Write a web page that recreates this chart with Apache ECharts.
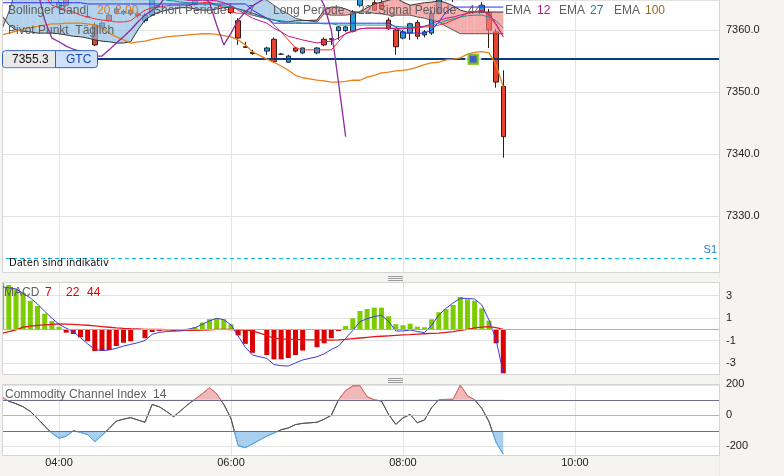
<!DOCTYPE html>
<html><head><meta charset="utf-8">
<script src="https://cdn.jsdelivr.net/npm/echarts@6/dist/echarts.min.js"></script>
<style>html,body{margin:0;padding:0;background:#f5f4f0;}#c{width:784px;height:476px;}</style>
</head><body><div id="c"></div>
<script>
// ---------- data (5-minute bars; 06:20 and 06:55 absent) ----------
const times = ['03:20','03:25','03:30','03:35','03:40','03:45','03:50','03:55','04:00','04:05','04:10','04:15','04:20','04:25','04:30','04:35','04:40','04:45','04:50','04:55','05:00','05:05','05:10','05:15','05:20','05:25','05:30','05:35','05:40','05:45','05:50','05:55','06:00','06:05','06:10','06:15','06:25','06:30','06:35','06:40','06:45','06:50','07:00','07:05','07:10','07:15','07:20','07:25','07:30','07:35','07:40','07:45','07:50','07:55','08:00','08:05','08:10','08:15','08:20','08:25','08:30','08:35','08:40','08:45','08:50','08:55','09:00','09:05','09:10'];
const opens = [7367.5,7368.0,7367.6,7367.9,7367.2,7366.8,7366.0,7365.4,7363.6,7365.0,7365.2,7365.6,7362.2,7360.8,7360.5,7362.4,7363.4,7362.7,7363.2,7362.6,7361.5,7362.4,7365.4,7365.1,7365.6,7365.2,7365.5,7364.1,7366.5,7366.9,7367.5,7367.0,7363.8,7361.5,7357.3,7356.4,
  7356.6,7358.5,7356.1,7354.8,7357.1,7356.3,
  7356.3,7358.5,7358.6,7359.9,7359.9,7359.8,7364.0,7365.6,7364.4,7364.4,7361.6,7360.0,7358.7,7359.5,7361.2,7359.2,7359.5,7362.7,7365.0,7365.8,7366.1,7367.5,7367.0,7362.9,7362.8,7359.7,7350.9];
const closes = [7368.0,7367.6,7367.9,7367.2,7366.8,7366.0,7365.4,7365.1,7364.4,7364.0,7365.6,7365.0,7362.1,7357.6,7361.1,7361.5,7362.7,7363.0,7362.6,7362.3,7362.4,7365.4,7365.1,7365.3,7365.2,7365.5,7365.0,7366.5,7366.9,7367.5,7366.9,7365.1,7362.8,7358.7,7357.2,7356.2,
  7357.1,7354.9,7356.1,7355.8,7356.6,7357.1,
  7357.1,7357.6,7358.5,7360.5,7360.5,7362.9,7365.6,7365.3,7363.2,7363.4,7360.2,7357.3,7359.7,7361.0,7359.0,7359.7,7362.7,7365.0,7365.8,7366.1,7367.5,7367.0,7366.2,7364.0,7360.0,7351.6,7342.8];
const lows = [7366.8,7367.0,7367.2,7366.9,7366.2,7365.6,7365.1,7364.4,7363.4,7363.7,7364.9,7364.9,7362.1,7357.4,7360.2,7361.3,7362.5,7362.4,7362.3,7361.9,7361.2,7362.2,7364.9,7364.9,7364.9,7365.0,7364.9,7363.9,7366.0,7366.4,7366.5,7364.9,7362.6,7357.6,7357.1,7356.0,
  7356.0,7354.7,7356.0,7354.7,7356.4,7356.1,
  7356.1,7357.4,7357.6,7358.4,7359.7,7359.6,7363.7,7364.9,7363.1,7363.2,7360.0,7356.0,7358.5,7358.4,7358.5,7358.8,7359.2,7362.5,7364.8,7364.5,7365.9,7366.6,7365.8,7362.7,7357.1,7350.7,7339.4];
const highs = [7368.6,7368.4,7368.5,7368.2,7367.5,7367.1,7366.3,7365.8,7365.3,7365.4,7365.9,7365.8,7364.0,7361.2,7361.4,7362.7,7363.7,7363.3,7363.6,7362.9,7362.7,7365.9,7366.0,7365.7,7366.0,7365.9,7365.8,7366.8,7367.3,7367.9,7367.7,7367.3,7364.3,7361.9,7358.1,7356.8,
  7357.3,7358.8,7356.3,7356.0,7357.3,7357.2,
  7357.2,7358.8,7358.6,7360.6,7360.7,7363.2,7365.9,7366.1,7364.8,7364.8,7362.0,7360.2,7360.0,7361.2,7361.6,7360.0,7363.1,7365.7,7366.2,7366.4,7367.9,7367.8,7367.2,7364.5,7363.4,7360.2,7353.5];

// Bollinger lower band (orange)
const bollLower = [7359.2,7359.5,7359.8,7360.2,7360.4,7360.6,7360.8,7361.0,7361.0,7361.1,7361.1,7361.1,7361.0,7360.8,7360.3,7359.5,7358.9,7358.4,7357.9,7358.1,7358.2,7358.5,7358.7,7358.9,7359.0,7359.1,7359.2,7359.3,7359.4,7359.4,7359.3,7359.1,7358.9,7358.4,7357.6,7356.5,
  7355.3,7354.8,7354.2,7353.5,7352.7,7352.3,
  7351.9,7351.8,7351.6,7351.6,7351.7,7351.9,7351.9,7352.4,7352.7,7353.1,7353.2,7353.4,7353.5,7353.7,7354.0,7354.4,7354.7,7354.8,7355.2,7355.3,7355.5,7356.1,7356.4,7356.5,7356.3,7354.4,7350.8];
// Short periode (red) and long periode (blue)
const shortLine = [7365.6,7365.6,7365.6,7365.6,7365.6,7365.6,7365.6,7364.0,7363.6,7363.2,7362.9,7362.4,7362.1,7361.8,7361.6,7361.5,7361.3,7361.3,7361.5,7362.4,7363.2,7363.6,7363.7,7363.9,7364.0,7364.0,7364.0,7364.2,7364.4,7364.5,7364.0,7363.6,7362.9,7362.7,7362.7,7362.4,
  7361.9,7360.8,7359.7,7358.4,7357.1,7356.8,
  7356.8,7356.8,7356.8,7358.1,7359.5,7359.8,7360.2,7360.3,7360.3,7360.3,7360.3,7360.3,7360.3,7360.3,7360.3,7360.5,7360.5,7360.8,7361.1,7361.6,7362.1,7362.7,7362.9,7363.2,7362.4,7360.8,7358.9];
const longLine = [7364.4,7364.4,7364.4,7364.4,7364.4,7364.4,7364.4,7364.4,7364.4,7364.4,7364.4,7364.4,7364.2,7364.2,7364.2,7364.2,7364.2,7364.2,7364.2,7364.2,7364.2,7364.2,7364.2,7364.2,7364.2,7364.2,7364.2,7364.2,7364.2,7364.2,7364.2,7364.2,7364.2,7364.2,7364.2,7363.2,
  7361.9,7361.1,7361.1,7361.1,7361.1,7361.1,
  7361.1,7361.1,7361.1,7361.1,7361.1,7361.1,7361.1,7361.1,7361.1,7361.1,7361.1,7360.5,7359.5,7359.5,7359.5,7359.5,7360.0,7361.3,7362.9,7363.7,7363.7,7363.7,7363.7,7363.7,7363.7,7363.7,7363.7];
// cloud boundaries
const spanA = [7360.0,7362.9,7366.5,7366.5,7366.5,7366.5,7366.5,7366.5,7366.5,7366.5,7366.5,7366.5,7366.5,7366.5,7366.5,7366.5,7366.5,7366.5,7366.5,7366.5,7366.5,7366.5,7366.5,7366.5,7366.5,7366.5,7366.5,7366.5,7366.5,7366.5,7366.5,7366.5,7366.5,7366.5,7366.5,7365.6,
  7364.8,7364.0,7363.2,7362.6,7361.9,7361.6,
  7361.3,7362.6,7362.4,7362.4,7362.4,7362.6,7362.9,7362.9,7362.7,7362.6,7362.4,7362.4,7362.4,7362.4,7362.1,7361.9,7361.6,7361.3,7360.6,7360.0,7359.4,7359.4,7359.4,7359.4,7359.4,7359.4,7359.4];
const spanB = [7362.4,7360.8,7360.0,7359.8,7359.7,7359.5,7359.5,7359.5,7359.4,7359.2,7359.0,7358.9,7358.7,7358.4,7358.2,7358.1,7357.9,7357.9,7358.1,7360.0,7361.6,7362.4,7362.9,7363.2,7363.4,7363.6,7363.6,7363.4,7363.2,7363.2,7363.4,7363.6,7363.7,7363.4,7363.1,7362.7,
  7361.9,7361.6,7361.3,7361.3,7361.5,7361.5,
  7361.6,7363.2,7363.7,7363.7,7363.4,7362.9,7362.9,7363.6,7364.2,7364.5,7364.8,7365.2,7364.5,7364.0,7364.2,7364.4,7364.5,7364.7,7364.4,7363.9,7363.2,7362.9,7362.9,7362.9,7362.9,7362.9,7362.9];
const ema12 = [7365.6,7365.6,7365.6,7365.6,7365.6,7365.6,7365.6,7365.6,7365.6,7365.6,7365.6,7365.6,7365.6,7365.6,7365.6,7365.6,7365.6,7365.6,7365.6,7365.6,7365.6,7365.6,7365.6,7365.3,7365.2,7365.0,7364.8,7364.8,7364.8,7364.8,7364.7,7364.4,7363.9,7363.2,7362.6,7361.9,
  7361.1,7360.3,7359.7,7359.0,7358.7,7358.4,
  7357.9,7358.1,7358.2,7358.7,7359.4,7359.8,7360.2,7360.3,7360.3,7360.3,7360.3,7360.2,7360.2,7360.3,7360.5,7360.6,7361.0,7361.5,7361.9,7362.1,7362.4,7362.7,7362.9,7363.1,7362.6,7361.0,7358.9];
const ema27 = [7365.6,7365.6,7365.6,7365.6,7365.6,7365.6,7365.6,7365.6,7365.6,7365.6,7365.6,7365.6,7365.6,7365.6,7365.6,7365.6,7365.6,7365.6,7365.6,7365.6,7365.6,7365.6,7365.6,7364.8,7364.7,7364.5,7364.4,7364.4,7364.2,7364.2,7364.0,7363.9,7363.7,7363.4,7362.9,7362.4,
  7361.8,7361.6,7361.5,7361.3,7361.3,7361.1,
  7361.1,7361.0,7361.0,7360.8,7360.8,7360.8,7360.8,7360.8,7360.8,7360.8,7360.8,7360.6,7360.5,7360.5,7360.5,7360.6,7360.8,7361.1,7361.5,7361.8,7362.1,7362.3,7362.4,7362.4,7362.1,7361.5,7360.3];
// lagging line (purple), plotted from the first bar, ends 22 bars before the last bar
const lagLine = [7365.1,7365.3,7365.2,7365.5,7365.0,7366.5,7361.6,7358.7,7358.1,7357.4,7356.9,7356.5,7356.1,7355.8,7355.8,7356.8,7357.9,7358.9,7360.0,7361.3,7362.4,7363.2,7364.0,7365.6,7366.0,7366.3,7366.5,7366.2,7365.6,7364.4,7360.8,7357.6,7359.5,7361.6,7362.9,7363.9,7365.3,7365.0,7365.8,7366.1,7367.5,7367.0,7366.2,7364.0,7360.0,7351.6,7342.8];

const macdHist = [4.16,3.95,3.57,3.27,2.55,2.08,1.39,0.74,0.23,-0.30,-0.42,-0.71,-1.07,-1.94,-1.94,-1.85,-1.49,-1.2,-1.07,-0.05,-0.8,-0.24,-0.15,-0.05,-0.15,0.0,0.05,0.18,0.6,0.9,1.0,0.9,0.45,-0.54,-1.3,-2.1,
  -2.3,-2.68,-2.68,-2.56,-2.3,-1.9,
  -1.6,-1.25,-0.8,-0.15,0.3,0.98,1.63,1.81,1.93,1.93,1.16,0.45,0.36,0.5,0.23,0.18,0.89,1.52,1.79,2.17,2.88,2.68,2.55,1.87,0.77,-1.25,-3.93];
const macdLine = [3.8,3.7,3.6,3.2,2.8,2.25,1.6,1.0,0.45,0.1,-0.2,-0.75,-1.3,-1.8,-1.9,-1.85,-1.7,-1.5,-1.35,-1.2,-1.0,-0.45,-0.28,-0.2,-0.17,-0.15,0.0,0.15,0.45,0.75,0.98,0.85,0.4,-0.6,-1.6,-2.3,
  -2.6,-3.15,-3.25,-3.28,-3.0,-2.74,
  -2.45,-2.2,-1.8,-1.5,-0.8,-0.1,0.68,0.95,1.13,1.25,0.7,-0.15,-0.15,-0.06,-0.2,-0.3,0.35,1.28,1.87,2.35,2.77,2.75,2.7,2.17,0.83,-0.96,-3.9];
const macdSignal = [-0.36,-0.2,-0.05,0.2,0.28,0.34,0.4,0.44,0.47,0.46,0.43,0.4,0.36,0.3,0.24,0.18,0.12,0.08,0.05,0.03,0.0,0.0,-0.02,-0.04,-0.06,-0.08,-0.1,-0.1,-0.08,-0.04,0.0,0.0,-0.02,-0.05,-0.08,-0.15,
  -0.55,-0.8,-0.85,-0.88,-0.9,-0.92,
  -0.94,-0.95,-0.96,-0.95,-0.9,-0.84,-0.78,-0.72,-0.66,-0.62,-0.58,-0.54,-0.5,-0.48,-0.44,-0.4,-0.37,-0.34,-0.28,-0.2,-0.1,0.0,0.12,0.2,0.23,0.15,0.0];
const cci = [120,90,75,55,25,-20,-70,-115,-148,-135,-100,-110,-125,-170,-130,-85,-37,-25,-15,-30,-45,70,55,25,-9,30,70,105,140,178,140,70,-20,-196,-209,-185,
  -134,-115,-93,-82,-60,-52,
  -45,-25,0,99,160,190,191,120,100,92,5,-58,-17,6,-48,-30,50,100,103,103,195,126,100,45,-40,-175,-250];

const priceTicks = [7330, 7340, 7350, 7360];
const macdTicks = [-3, -1, 1, 3];
const cciTicks = [-200, 0, 200];
const cciLevels = [100, -100];
const orderPrice = 7355.3;
const orderTime = '08:49';
const s1Price = 7323.2;
const lastPrice = closes[closes.length - 1];

// ---------- chart ----------
const toMin = s => +s.slice(0, 2) * 60 + +s.slice(3);
const xs = times.map(toMin);
const pair = arr => arr.map((v, k) => [xs[k], v]);
const FONT = 'Liberation Sans';
const BEIGE = '#f5f4f0';
const fmtTime = v => { const h = Math.floor(v / 60), m = Math.round(v % 60); return String(h).padStart(2, '0') + ':' + String(m).padStart(2, '0'); };

const chart = echarts.init(document.getElementById('c'), null, { renderer: 'canvas' });

const xAxisBase = gi => ({
  type: 'value', gridIndex: gi, min: 120, max: 700.5, interval: 120,
  axisLine: { show: false }, axisTick: { show: false }, axisLabel: { show: false },
  splitLine: { show: true, lineStyle: { color: '#e3e3e3', width: 1 } }
});
const yLabel = (fmt) => ({ color: '#222', fontSize: 11, fontFamily: FONT, margin: 7, formatter: fmt, showMaxLabel: false });

const cloudData = xs.slice(0, -1).map((x, k) => [x, spanA[k], spanB[k], xs[k + 1], spanA[k + 1], spanB[k + 1]]);

const thinLine = (name, data, color, width, z) => ({
  type: 'line', name, xAxisIndex: 0, yAxisIndex: 0, data: pair(data), showSymbol: false, symbol: 'none',
  lineStyle: { color, width }, z: z || 4, silent: true, animation: false
});
const gridBase = { left: -113, right: 65, show: true, backgroundColor: '#fff', borderWidth: 0, outerBoundsMode: 'none', containLabel: false };

const option = {
  backgroundColor: BEIGE,
  animation: false,
  grid: [
    Object.assign({ top: 0, bottom: 198 }, gridBase),
    Object.assign({ top: 282, bottom: 90.7 }, gridBase),
    Object.assign({ top: 384, bottom: -1.3 }, gridBase)
  ],
  xAxis: [
    xAxisBase(0), xAxisBase(1), xAxisBase(2),
    { type: 'value', gridIndex: 2, min: 120, max: 700.5, interval: 120, position: 'bottom', offset: -21, z: 30,
      axisLine: { show: false }, axisTick: { show: false }, splitLine: { show: false },
      axisLabel: { show: true, color: '#222', fontSize: 11, fontFamily: FONT, margin: 1, showMaxLabel: false, showMinLabel: false, formatter: fmtTime } }
  ],
  yAxis: [
    { type: 'value', gridIndex: 0, position: 'right', min: 7320, max: 7364.84, interval: 10, scale: true,
      axisLine: { show: false }, axisTick: { show: false },
      splitLine: { lineStyle: { color: '#e3e3e3' } },
      axisLabel: yLabel(v => priceTicks.includes(Math.round(v)) ? v.toFixed(1) : '') },
    { type: 'value', gridIndex: 1, position: 'right', min: -5, max: 4.22, interval: 2,
      axisLine: { show: false }, axisTick: { show: false },
      splitLine: { lineStyle: { color: '#e3e3e3' } },
      axisLabel: yLabel(v => macdTicks.includes(Math.round(v)) ? String(v) : '') },
    { type: 'value', gridIndex: 2, position: 'right', min: -400, max: 202, interval: 200,
      axisLine: { show: false }, axisTick: { show: false },
      splitLine: { lineStyle: { color: '#e3e3e3' } },
      axisLabel: yLabel(v => cciTicks.includes(Math.round(v)) ? String(v) : '') }
  ],
  visualMap: [
    { type: 'piecewise', show: false, seriesIndex: 15, dimension: 1,
      pieces: [{ gt: 100, color: '#e58b8b' }, { lt: -100, color: '#6fb0e2' }, { gte: -100, lte: 100, color: 'rgba(255,255,255,0)' }] },
    { type: 'piecewise', show: false, seriesIndex: 16, dimension: 1,
      pieces: [{ gt: 100, color: '#d96a6a' }, { lt: -100, color: '#5aa2dc' }, { gte: -100, lte: 100, color: '#555' }] }
  ],
  series: [
    { // 0 candles
      type: 'candlestick', xAxisIndex: 0, yAxisIndex: 0, barWidth: 5, z: 2,
      data: xs.map((x, k) => [x, opens[k], closes[k], lows[k], highs[k]]),
      encode: { x: 0, y: [1, 2, 3, 4] },
      itemStyle: { color: '#27a0e0', color0: '#e9432f', borderColor: '#1d2a38', borderColor0: '#3a1a14', borderWidth: 1 },
      markLine: {
        silent: true, symbol: 'none', animation: false,
        data: [
          { yAxis: orderPrice, lineStyle: { color: '#0a3a78', width: 2, type: 'solid' }, label: { show: false } },
          { yAxis: s1Price, lineStyle: { color: '#12b2ea', width: 1, type: [4, 3] },
            label: { show: true, position: 'insideEndTop', formatter: 'S1', color: '#1a7ed0', fontSize: 11, fontFamily: FONT, distance: [2, 3] } },
          { yAxis: lastPrice, lineStyle: { opacity: 0 },
            label: { show: true, position: 'end', distance: 0, formatter: p => p.value.toFixed(1), color: '#111', fontSize: 11, fontFamily: FONT,
              backgroundColor: '#dcdcdc', borderColor: '#111', borderWidth: 1, padding: [4, 24, 3, 3] } }
        ]
      }
    },
    { // 1 cloud
      type: 'custom', xAxisIndex: 0, yAxisIndex: 0, clip: true, z: 3, silent: true,
      data: cloudData, encode: { x: [0, 3], y: [1, 2, 4, 5] },
      renderItem(params, api) {
        const x0 = api.value(0), a0 = api.value(1), b0 = api.value(2), x1 = api.value(3), a1 = api.value(4), b1 = api.value(5);
        const d0 = a0 - b0, d1 = a1 - b1;
        const P = (x, v) => api.coord([x, v]);
        const polys = [];
        if (d0 * d1 >= 0) {
          polys.push({ pts: [P(x0, a0), P(x1, a1), P(x1, b1), P(x0, b0)], up: d0 + d1 >= 0 });
        } else {
          const f = d0 / (d0 - d1), xc = x0 + f * (x1 - x0), vc = a0 + f * (a1 - a0);
          polys.push({ pts: [P(x0, a0), P(xc, vc), P(x0, b0)], up: d0 > 0 });
          polys.push({ pts: [P(xc, vc), P(x1, a1), P(x1, b1)], up: d1 > 0 });
        }
        return { type: 'group', children: polys.map(p => ({ type: 'polygon', shape: { points: p.pts },
          style: { fill: p.up ? '#8cbbe2' : '#f28383', opacity: 0.66 } })) };
      }
    },
    thinLine('spanA', spanA, '#555', 1, 4),          // 2
    thinLine('spanB', spanB, '#333', 1, 4),          // 3
    thinLine('boll', bollLower, '#e8801c', 1.3, 5),  // 4
    thinLine('short', shortLine, '#ff2a2a', 1, 5),   // 5
    thinLine('long', longLine, '#2a2aff', 1, 5),     // 6
    thinLine('ema27', ema27, '#17949a', 1, 5),       // 7
    thinLine('ema12', ema12, '#c0178c', 1, 5),       // 8
    { type: 'line', xAxisIndex: 0, yAxisIndex: 0, data: lagLine.map((v, k) => [xs[k], v]), showSymbol: false, symbol: 'none',
      lineStyle: { color: '#8e2c9e', width: 1.3 }, z: 5, silent: true },              // 9
    { type: 'scatter', xAxisIndex: 0, yAxisIndex: 0, z: 7, silent: true, // 10 marker gap
      data: [[toMin(orderTime), orderPrice]], symbol: 'rect', symbolSize: [16, 5], itemStyle: { color: '#fff' } },
    { type: 'scatter', xAxisIndex: 0, yAxisIndex: 0, z: 8, silent: true, // 11 order marker
      data: [[toMin(orderTime), orderPrice]], symbol: 'rect', symbolSize: 9,
      itemStyle: { color: '#1638c8', borderColor: '#78c000', borderWidth: 2.5 } },
    { // 12 histogram
      type: 'bar', xAxisIndex: 1, yAxisIndex: 1, barWidth: 5, data: pair(macdHist), z: 2,
      itemStyle: { color: p => p.value[1] >= 0 ? '#7ccc00' : '#dd0000' },
      markLine: { silent: true, symbol: 'none', label: { show: false }, data: [{ yAxis: 0 }], lineStyle: { color: '#a9b1b9', width: 1, type: 'solid' } }
    },
    { type: 'line', xAxisIndex: 1, yAxisIndex: 1, data: pair(macdLine), showSymbol: false, symbol: 'none', lineStyle: { color: '#3b3bdd', width: 1 }, z: 4 }, // 13
    { type: 'line', xAxisIndex: 1, yAxisIndex: 1, data: pair(macdSignal), showSymbol: false, symbol: 'none', lineStyle: { color: '#e01818', width: 1.3 }, z: 3 }, // 14
    { // 15 cci fill
      type: 'line', xAxisIndex: 2, yAxisIndex: 2, data: pair(cci), showSymbol: false, symbol: 'none',
      lineStyle: { width: 0 }, areaStyle: { origin: 100, opacity: 0.6 }, z: 2, silent: true
    },
    { // 16 cci line
      type: 'line', xAxisIndex: 2, yAxisIndex: 2, data: pair(cci), showSymbol: false, symbol: 'none',
      lineStyle: { width: 1 }, z: 4, silent: true,
      markLine: { silent: true, symbol: 'none', label: { show: false },
        data: [
          { yAxis: cciLevels[0], lineStyle: { color: '#6e6e8e', width: 1, type: 'solid' } },
          { yAxis: 0, lineStyle: { color: '#9dbbd2', width: 1, type: 'solid' } },
          { yAxis: cciLevels[1], lineStyle: { color: '#6e6e8e', width: 1, type: 'solid' } }
        ] }
    }
  ]
};
chart.setOption(option);

// ---------- overlay furniture (strips, frames, titles) ----------
const oy = chart.convertToPixel({ yAxisIndex: 0 }, orderPrice);
const txt = (x, y, s, color, size, family, extra) => Object.assign({ type: 'text', x, y, z: 40,
  style: { text: s, fill: color, font: (size || 12) + 'px "' + (family || FONT) + '"', textVerticalAlign: 'middle' } }, extra || {});
const hline = (x1, x2, y, color) => ({ type: 'line', z: 32, shape: { x1, y1: y, x2, y2: y }, style: { stroke: color, lineWidth: 1 } });
const GRAY = '#5e5e5e';
const elements = [
  { type: 'rect', z: 30, shape: { x: 0, y: 0, width: 2, height: 476 }, style: { fill: BEIGE } },
  { type: 'rect', z: 30, shape: { x: 0, y: 272.5, width: 719.5, height: 9.5 }, style: { fill: BEIGE } },
  { type: 'rect', z: 30, shape: { x: 0, y: 374.5, width: 719.5, height: 9.5 }, style: { fill: BEIGE } },
  { type: 'rect', z: 30, shape: { x: 0, y: 455.5, width: 719.5, height: 21 }, style: { fill: BEIGE } },
  { type: 'rect', z: 31, shape: { x: 2.5, y: -1, width: 717, height: 273.5 }, style: { fill: null, stroke: '#d4d4d4', lineWidth: 1 } },
  { type: 'rect', z: 31, shape: { x: 2.5, y: 282.5, width: 717, height: 92 }, style: { fill: null, stroke: '#d4d4d4', lineWidth: 1 } },
  { type: 'rect', z: 31, shape: { x: 2.5, y: 384.5, width: 717, height: 71 }, style: { fill: null, stroke: '#d4d4d4', lineWidth: 1 } },
  hline(388, 403, 276.5, '#9b9b9b'), hline(388, 403, 278.5, '#9b9b9b'), hline(388, 403, 280.5, '#9b9b9b'),
  hline(388, 403, 378.5, '#9b9b9b'), hline(388, 403, 380.5, '#9b9b9b'), hline(388, 403, 382.5, '#9b9b9b'),
  // order box
  { type: 'rect', z: 35, shape: { x: 2.5, y: oy - 8.5, width: 95, height: 17, r: 3 }, style: { fill: '#cfe0fa', stroke: '#2f5fc4', lineWidth: 1 } },
  { type: 'rect', z: 36, shape: { x: 3, y: oy - 8, width: 52, height: 16, r: [3, 0, 0, 3] }, style: { fill: '#e9e9e9' } },
  { type: 'line', z: 36, shape: { x1: 55.5, y1: oy - 8, x2: 55.5, y2: oy + 8 }, style: { stroke: '#2f5fc4', lineWidth: 1 } },
  txt(12, oy + 0.5, orderPrice.toFixed(1), '#111', 12),
  txt(66, oy + 0.5, 'GTC', '#1a46b0', 12),
  // titles
  txt(8, 11, 'Bollinger Band', GRAY, 12), txt(97, 11, '20', '#e07b1a', 12), txt(115, 11, '2.00', '#e07b1a', 12),
  txt(153, 11, 'Short Periode', GRAY, 12), txt(248, 11, '7', GRAY, 12),
  txt(273, 11, 'Long Periode', GRAY, 12), txt(358, 11, '22', GRAY, 12),
  txt(378, 11, 'Signal Periode', GRAY, 12), txt(468, 11, '44', GRAY, 12),
  txt(505, 11, 'EMA', GRAY, 12), txt(537, 11, '12', '#b8167f', 12),
  txt(559, 11, 'EMA', GRAY, 12), txt(590, 11, '27', '#17868e', 12),
  txt(614, 11, 'EMA', GRAY, 12), txt(645, 11, '100', '#946a1e', 12),
  txt(8, 31, 'Pivot Punkt  Täglich', GRAY, 12),
  txt(9, 263.5, 'Daten sind indikativ', '#111', 10, 'DejaVu Sans'),
  txt(4, 293, 'MACD', GRAY, 12), txt(45, 293, '7', '#e00000', 12), txt(66, 293, '22', '#e00000', 12), txt(87, 293, '44', '#e00000', 12),
  txt(5, 394.5, 'Commodity Channel Index  14', GRAY, 12)
];
chart.setOption({ graphic: { elements } });
</script>
</body></html>
